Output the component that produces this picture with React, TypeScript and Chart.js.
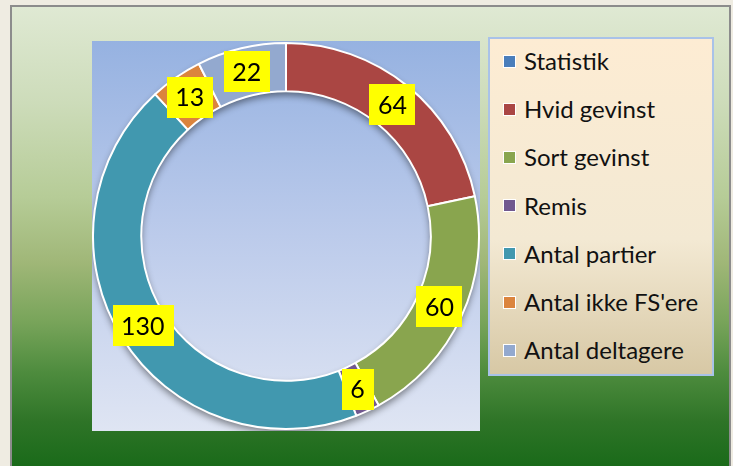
import React, { useEffect, useRef } from "react";
import { Chart, registerables } from "chart.js";

Chart.register(...registerables);

const categories = [
  "Statistik",
  "Hvid gevinst",
  "Sort gevinst",
  "Remis",
  "Antal partier",
  "Antal ikke FS'ere",
  "Antal deltagere",
];
const values = [0, 64, 60, 6, 130, 13, 22];
const colors = ["#4a7ebb", "#aa4643", "#89a54e", "#71588f", "#4198af", "#db843d", "#93a9cf"];

const FONT = "Lato, 'Open Sans', sans-serif";

const shadowPlugin = {
  id: "ringShadow",
  beforeDatasetsDraw(chart: any) {
    const meta = chart.getDatasetMeta(0);
    const arc = meta.data.find((a: any) => a) as any;
    if (!arc) return;
    const { x, y, outerRadius, innerRadius } = arc.getProps(["x", "y", "outerRadius", "innerRadius"], true);
    const ctx = chart.ctx;
    ctx.save();
    ctx.shadowColor = "rgba(0,0,0,0.45)";
    ctx.shadowBlur = 7;
    ctx.shadowOffsetY = 4;
    ctx.shadowOffsetX = 0;
    ctx.beginPath();
    ctx.arc(x, y, outerRadius, 0, Math.PI * 2);
    ctx.arc(x, y, innerRadius, 0, Math.PI * 2, true);
    ctx.fillStyle = "#4198af";
    ctx.fill();
    ctx.restore();
  },
};

const labelPlugin = {
  id: "yellowLabels",
  afterDatasetsDraw(chart: any) {
    const ctx = chart.ctx;
    const meta = chart.getDatasetMeta(0);
    ctx.save();
    ctx.font = `25px ${FONT}`;
    ctx.textAlign = "center";
    ctx.textBaseline = "middle";
    meta.data.forEach((arc: any, i: number) => {
      const v = values[i];
      if (!v) return;
      const p = arc.tooltipPosition();
      const text = String(v);
      const w = ctx.measureText(text).width + 17;
      const h = 41;
      ctx.fillStyle = "#ffff00";
      ctx.fillRect(Math.round(p.x - w / 2), Math.round(p.y - h / 2), Math.round(w), h);
      ctx.fillStyle = "#000000";
      ctx.fillText(text, p.x, p.y + 1);
    });
    ctx.restore();
  },
};

export default function App() {
  const ref = useRef<HTMLCanvasElement | null>(null);

  useEffect(() => {
    if (!ref.current) return;
    const chart = new Chart(ref.current, {
      type: "doughnut",
      data: {
        labels: categories,
        datasets: [
          {
            data: values,
            backgroundColor: colors,
            borderColor: "#ffffff",
            borderWidth: 2,
          },
        ],
      },
      options: {
        animation: false,
        responsive: false,
        maintainAspectRatio: false,
        cutout: "75%",
        layout: { padding: 0 },
        plugins: {
          legend: { display: false },
          tooltip: { enabled: false },
        },
      },
      plugins: [shadowPlugin, labelPlugin],
    });
    return () => chart.destroy();
  }, []);

  const rowTop = 22;
  const rowGap = 48.2;

  return (
    <div
      style={{
        position: "fixed",
        left: 0,
        top: 0,
        width: 733,
        height: 466,
        background: "#efece2",
        overflow: "hidden",
        fontFamily: FONT,
      }}
    >
      <div
        style={{
          position: "absolute",
          left: 10,
          top: 5,
          width: 717,
          height: 470,
          border: "2px solid #8c8c8c",
          background:
            "linear-gradient(to bottom, #dfe9d3 0px, #cddcba 95px, #b6cc97 190px, #a0b778 255px, #78a45a 315px, #4e8c3e 365px, #2e7427 415px, #196a19 461px)",
        }}
      />
      <div
        style={{
          position: "absolute",
          left: 92,
          top: 41,
          width: 388,
          height: 390,
          background: "linear-gradient(to bottom, #96b2e1 0%, #bccbeb 50%, #dfe5f3 100%)",
        }}
      />
      <canvas
        ref={ref}
        width={388}
        height={390}
        style={{ position: "absolute", left: 92, top: 41, width: 388, height: 390 }}
      />
      <div
        style={{
          position: "absolute",
          left: 488,
          top: 37,
          width: 222,
          height: 335,
          border: "2px solid #a9c2e8",
          background: "linear-gradient(to bottom, #fdecd3 0%, #f3e9d3 60%, #d7c8a5 100%)",
        }}
      >
        {categories.map((c, i) => (
          <div
            key={c}
            style={{
              position: "absolute",
              left: 13,
              top: rowTop + i * rowGap - 15,
              height: 30,
              display: "flex",
              alignItems: "center",
              whiteSpace: "nowrap",
            }}
          >
            <div
              style={{
                width: 11,
                height: 11,
                background: colors[i],
                border: "1px solid #ffffff",
                marginRight: 8,
              }}
            />
            <span style={{ fontSize: 24, color: "#111111", lineHeight: "30px" }}>{c}</span>
          </div>
        ))}
      </div>
    </div>
  );
}
